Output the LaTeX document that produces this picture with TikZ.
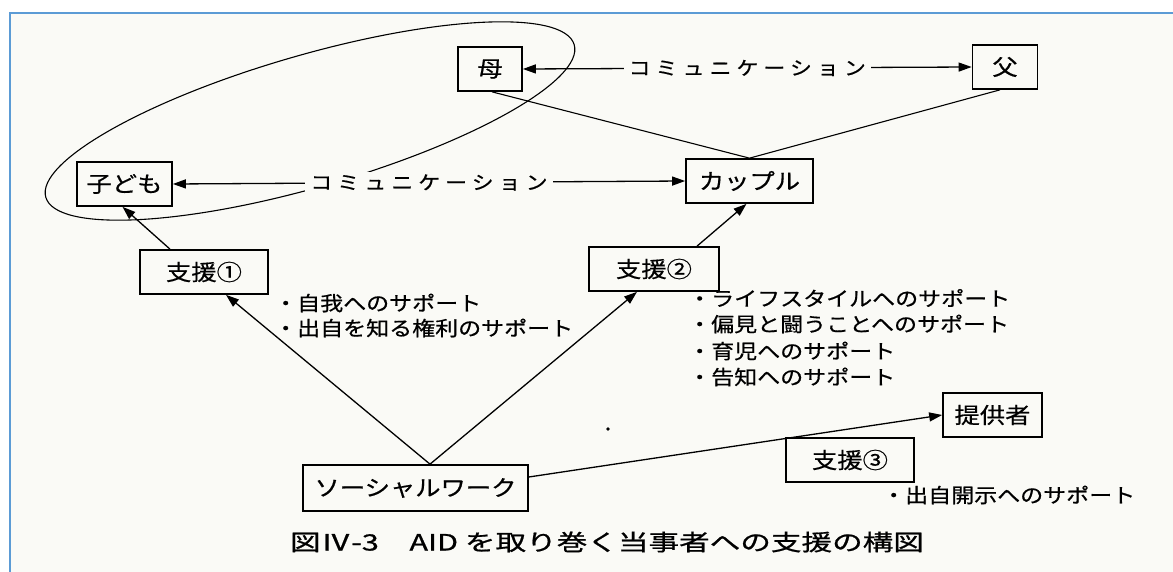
\documentclass[tikz,border=0pt]{standalone}
\usepackage{fontspec}
\setmainfont{Noto Sans CJK JP}
\newfontfamily\boxjp[FakeStretch=1.15,FakeBold=0.6]{Noto Sans CJK JP}
\newfontfamily\commjp[FakeStretch=1.15,LetterSpace=27,FakeBold=0.6]{Noto Sans CJK JP}
\newfontfamily\listjp[FakeStretch=1.15,FakeBold=0.6]{Noto Sans CJK JP}
\newfontfamily\capjp[FakeStretch=1.36,FakeBold=0.8]{Noto Sans CJK JP}
\usetikzlibrary{arrows.meta}
\definecolor{paper}{RGB}{250,250,246}
\definecolor{frameblue}{RGB}{91,155,213}
\begin{document}
\begin{tikzpicture}[x=1pt,y=-1pt,
  box/.style={draw=black, line width=1.7pt, minimum height=44pt, inner sep=0pt,
    font=\boxjp\fontsize{22}{26}\selectfont},
  conn/.style={line width=1.3pt, -{Triangle[length=13pt,width=9pt]}},
  both/.style={line width=1.3pt, {Triangle[length=13pt,width=9pt]}-{Triangle[length=13pt,width=9pt]}},
  plain/.style={line width=1.1pt},
  commlabel/.style={fill=paper, inner xsep=5pt, inner ysep=2pt,
    font=\commjp\fontsize{19}{22}\selectfont},
  listtxt/.style={anchor=west, inner sep=0pt, font=\listjp\fontsize{20}{24}\selectfont}]

\useasboundingbox (0,0) rectangle (1173,572);
\fill[white] (0,0) rectangle (1173,572);
\fill[paper] (10,13) rectangle (1173,572);
\draw[frameblue, line width=2pt] (10,572) -- (10,13) -- (1173,13);

% ellipse around child and mother
\draw[plain, rotate around={16.1:(310,121)}] (310,121) ellipse [x radius=275pt, y radius=66pt];

% nodes
\node[box, minimum width=64pt]  (mother)   at (490,69)    {母};
\node[box, minimum width=65pt]  (father)   at (1005,67)   {父};
\node[box, minimum width=95pt]  (child)    at (124.5,184) {子ども};
\node[box, minimum width=127pt] (couple)   at (749.5,181) {カップル};
\node[box, minimum width=128pt] (s1)       at (204,272)   {支援①};
\node[box, minimum width=130pt] (s2)       at (654,269)   {支援②};
\node[box, minimum width=225pt, minimum height=46pt] (sw) at (415.5,488) {ソーシャルワーク};
\node[box, minimum width=99pt]  (provider) at (992.5,415) {提供者};
\node[box, minimum width=128pt] (s3)       at (850,460)   {支援③};

% communication arrows
\draw[both] (mother.east) -- (father.west)
  node[commlabel, midway] (c1) {コミュニケーション};
\draw[both] (child.east) -- (couple.west)
  node[commlabel, midway] (c2) {コミュニケーション};

% mother/father to couple
\draw[plain] ([xshift=2pt]mother.south) -- (couple.north);
\draw[plain] ([xshift=-5pt]father.south) -- (couple.north);

% support arrows
\draw[conn] ([xshift=-34pt]s1.north) -- ([xshift=-2pt]child.south);
\draw[conn] ([xshift=43pt]s2.north) -- ([xshift=-3pt]couple.south);
\draw[conn] ([xshift=14.5pt]sw.north) -- ([xshift=22pt]s1.south);
\draw[conn] ([xshift=14.5pt]sw.north) -- ([xshift=-17pt]s2.south);
\draw[conn] ([yshift=11pt]sw.east) -- (provider.west);

% texts
\node[listtxt] (t1) at (274,303) {・自我へのサポート};
\node[listtxt] (t2) at (274,328) {・出自を知る権利のサポート};
\node[listtxt] (t3) at (688,298) {・ライフスタイルへのサポート};
\node[listtxt] (t4) at (688,324) {・偏見と闘うことへのサポート};
\node[listtxt] (t5) at (688,351) {・育児へのサポート};
\node[listtxt] (t6) at (688,377) {・告知へのサポート};
\node[listtxt] (t7) at (882,495) {・出自開示へのサポート};

\fill (608,429) circle (1.8pt);

\node[font=\capjp\fontsize{22.5}{26}\selectfont, inner sep=0pt] (cap) at (607,542)
  {図Ⅳ-3　AID を取り巻く当事者への支援の構図};
\end{tikzpicture}
\end{document}
